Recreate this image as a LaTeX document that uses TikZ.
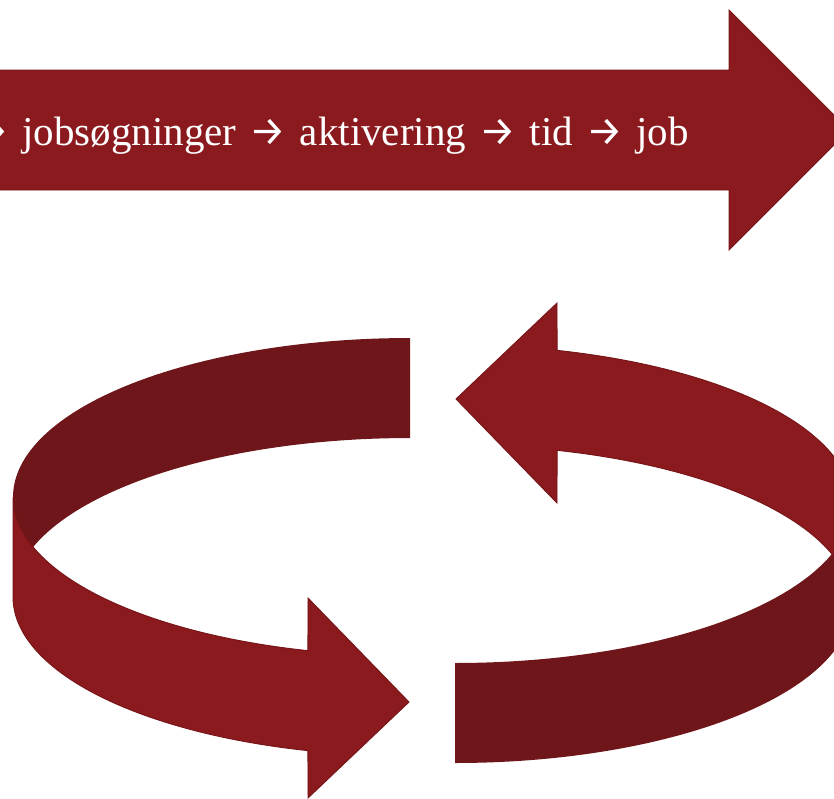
\documentclass[tikz,border=0pt]{standalone}
\usepackage{fontspec}
\setmainfont{Liberation Serif}
\newfontfamily\arrowglyphs{Fira Sans}
\newcommand{\steparrow}{{\arrowglyphs →}}
\newcommand{\widegaps}{\spaceskip=13.3pt plus 0pt minus 0pt\relax}
\definecolor{ribbonlight}{RGB}{138,26,30}
\definecolor{ribbondark}{RGB}{110,22,25}
\definecolor{ribbonedge}{RGB}{118,20,24}
\begin{document}
\begin{tikzpicture}[x=1pt,y=-1pt,
  lightface/.style={fill=ribbonlight,draw=ribbonedge,line width=0.9pt,line join=miter},
  darkface/.style={fill=ribbondark},
  steptext/.style={text=white,inner sep=0pt,font=\fontsize{41pt}{41pt}\selectfont}]
\useasboundingbox (0,0) rectangle (834,798);
\clip (0,0) rectangle (834,798);

% ring geometry: top rim ellipse of the left half, band height 100
\def\ringcx{410}
\def\ringcy{497}
\def\ringa{397}
\def\ringb{159}
\def\ringh{100}

% long arrow across the top
\path[lightface] (-10,70) -- (729,70) -- (729,10) -- (849,130) -- (729,250)
  -- (729,190) -- (-10,190) -- cycle;
\node[steptext,anchor=base east] (steps) at (689,145)
  {\widegaps\steparrow{} jobsøgninger \steparrow{} aktivering \steparrow{} tid \steparrow{} job};

% back faces of the circular arrows (darker), the right one is the left one turned by 180 degrees
\foreach \turn in {0,180}{
  \begin{scope}[rotate around={\turn:(432.5,550.5)}]
    \fill[darkface]
      plot[domain=270:180,samples=80] ({\ringcx+\ringa*cos(\x)},{\ringcy+\ringb*sin(\x)})
      -- plot[domain=180:270,samples=80] ({\ringcx+\ringa*cos(\x)},{\ringcy+\ringh+\ringb*sin(\x)})
      -- cycle;
  \end{scope}
}

% front faces with the arrow heads (lighter)
\foreach \turn in {0,180}{
  \begin{scope}[rotate around={\turn:(432.5,550.5)}]
    \path[lightface]
      plot[domain=180:104.9,samples=80] ({\ringcx+\ringa*cos(\x)},{\ringcy+\ringb*sin(\x)})
      -- (308,598) -- (409,702) -- (308,798)
      -- plot[domain=104.9:180,samples=80] ({\ringcx+\ringa*cos(\x)},{\ringcy+\ringh+\ringb*sin(\x)})
      -- cycle;
  \end{scope}
}
\end{tikzpicture}
\end{document}
